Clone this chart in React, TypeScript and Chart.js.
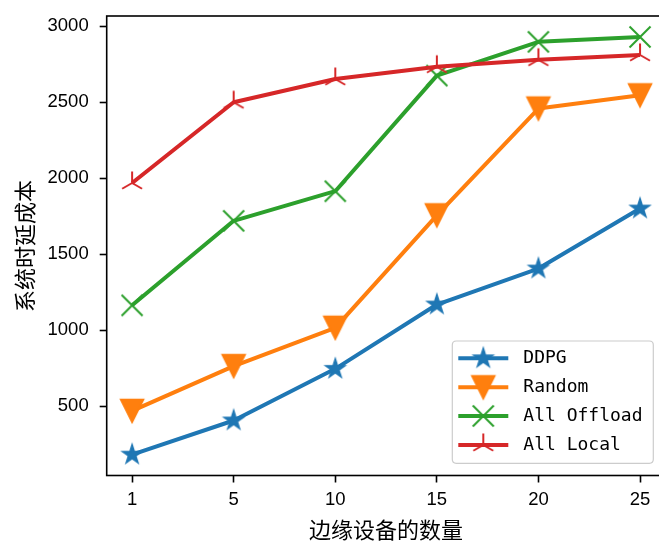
import React, { useEffect, useRef } from 'react';
import { Chart, registerables } from 'chart.js';

Chart.register(...registerables);

const categories = ['1', '5', '10', '15', '20', '25'];
const ddpg = [180, 405, 745, 1168, 1405, 1800];
const randomPolicy = [468, 763, 1015, 1755, 2458, 2545];
const allOffload = [1163, 1719, 1914, 2675, 2897, 2929];
const allLocal = [1968, 2499, 2652, 2733, 2779, 2811];
const yTickValues = [500, 1000, 1500, 2000, 2500, 3000];
const seriesNames = ['DDPG', 'Random', 'All Offload', 'All Local'];
const seriesColors = ['#1f77b4', '#ff7f0e', '#2ca02c', '#d62728'];
const seriesMarkers = ['star', 'tridown', 'x', 'triup'];
const xTitle = '边缘设备的数量';
const yTitle = '系统时延成本';

function makeMarker(kind: string, color: string): HTMLCanvasElement {
  const S = 30;
  const c = document.createElement('canvas');
  c.width = S;
  c.height = S;
  const ctx = c.getContext('2d')!;
  ctx.translate(S / 2, S / 2);
  ctx.strokeStyle = color;
  ctx.fillStyle = color;
  if (kind === 'star') {
    const R = 10.2;
    const r = R * 0.382;
    ctx.beginPath();
    for (let i = 0; i < 10; i++) {
      const ang = -Math.PI / 2 + (i * Math.PI) / 5;
      const rad = i % 2 === 0 ? R : r;
      const px = Math.cos(ang) * rad;
      const py = Math.sin(ang) * rad;
      if (i === 0) ctx.moveTo(px, py);
      else ctx.lineTo(px, py);
    }
    ctx.closePath();
    ctx.fill();
    ctx.lineWidth = 1.4;
    ctx.lineJoin = 'miter';
    ctx.stroke();
  } else if (kind === 'tridown') {
    const h = 11.6;
    ctx.beginPath();
    ctx.moveTo(0, h);
    ctx.lineTo(-h, -h);
    ctx.lineTo(h, -h);
    ctx.closePath();
    ctx.fill();
    ctx.lineWidth = 1.4;
    ctx.stroke();
  } else if (kind === 'x') {
    const h = 10.5;
    ctx.lineWidth = 2;
    ctx.lineCap = 'butt';
    ctx.beginPath();
    ctx.moveTo(-h, -h);
    ctx.lineTo(h, h);
    ctx.moveTo(-h, h);
    ctx.lineTo(h, -h);
    ctx.stroke();
  } else if (kind === 'triup') {
    const r = 11.5;
    ctx.lineWidth = 2;
    ctx.lineCap = 'butt';
    ctx.beginPath();
    ctx.moveTo(0, 0);
    ctx.lineTo(0, -r);
    ctx.moveTo(0, 0);
    ctx.lineTo(-r * 0.866, r * 0.5);
    ctx.moveTo(0, 0);
    ctx.lineTo(r * 0.866, r * 0.5);
    ctx.stroke();
  }
  return c;
}

export default function App() {
  const ref = useRef<HTMLCanvasElement | null>(null);

  useEffect(() => {
    const canvas = ref.current;
    if (!canvas) return;
    const markers = seriesMarkers.map((m, i) => makeMarker(m, seriesColors[i]));
    const allSeries = [ddpg, randomPolicy, allOffload, allLocal];

    const datasets = allSeries.map((vals, i) => ({
      label: seriesNames[i],
      data: vals.map((v, k) => ({ x: k, y: v })),
      borderColor: seriesColors[i],
      backgroundColor: seriesColors[i],
      borderWidth: 4,
      borderJoinStyle: 'round' as const,
      pointStyle: markers[i] as any,
      pointRadius: 12,
      pointHoverRadius: 12,
      tension: 0,
      order: 3 - i,
    }));

    const overlay = {
      id: 'overlay',
      afterDraw(chart: any) {
        const { ctx, chartArea: a } = chart;
        ctx.save();
        // frame
        ctx.strokeStyle = '#000';
        ctx.lineWidth = 1.6;
        ctx.strokeRect(a.left, a.top, a.right - a.left, a.bottom - a.top);
        // axis titles
        ctx.fillStyle = '#000';
        ctx.font = '22px "Noto Sans CJK SC"';
        ctx.textAlign = 'center';
        ctx.textBaseline = 'middle';
        ctx.fillText(xTitle, (a.left + a.right) / 2, 530);
        ctx.save();
        ctx.translate(25, 246);
        ctx.rotate(-Math.PI / 2);
        ctx.fillText(yTitle, 0, 0);
        ctx.restore();
        // legend
        const bx = 452.3, by = 341, bw = 201, bh = 122.3, rr = 4;
        ctx.beginPath();
        ctx.moveTo(bx + rr, by);
        ctx.lineTo(bx + bw - rr, by);
        ctx.quadraticCurveTo(bx + bw, by, bx + bw, by + rr);
        ctx.lineTo(bx + bw, by + bh - rr);
        ctx.quadraticCurveTo(bx + bw, by + bh, bx + bw - rr, by + bh);
        ctx.lineTo(bx + rr, by + bh);
        ctx.quadraticCurveTo(bx, by + bh, bx, by + bh - rr);
        ctx.lineTo(bx, by + rr);
        ctx.quadraticCurveTo(bx, by, bx + rr, by);
        ctx.closePath();
        ctx.fillStyle = 'rgba(255,255,255,0.8)';
        ctx.fill();
        ctx.strokeStyle = '#cccccc';
        ctx.lineWidth = 1.2;
        ctx.stroke();
        const rows = [358.3, 387.3, 416, 445];
        ctx.font = '18px "DejaVu Sans Mono"';
        ctx.textAlign = 'left';
        ctx.textBaseline = 'middle';
        seriesNames.forEach((name, i) => {
          const y = rows[i];
          ctx.strokeStyle = seriesColors[i];
          ctx.lineWidth = 4;
          ctx.lineCap = 'butt';
          ctx.beginPath();
          ctx.moveTo(458.3, y);
          ctx.lineTo(508.3, y);
          ctx.stroke();
          const m = markers[i];
          ctx.drawImage(m, 483.3 - m.width / 2, y - m.height / 2);
          ctx.fillStyle = '#000';
          ctx.fillText(name, 523.3, y);
        });
        ctx.restore();
      },
    };

    const tickFont = { family: '"Liberation Sans", Arial, sans-serif', size: 18.5 };

    const chart = new Chart(canvas, {
      type: 'line',
      data: { datasets },
      options: {
        animation: false,
        responsive: false,
        devicePixelRatio: 1,
        layout: { padding: { left: 0, top: 14, right: 700 - 665.4, bottom: 0 } },
        plugins: { legend: { display: false }, tooltip: { enabled: false } },
        scales: {
          x: {
            type: 'linear',
            min: -0.25,
            max: 5.25,
            grid: { drawOnChartArea: false, drawTicks: true, tickLength: 7, tickColor: '#000', tickWidth: 1.6 },
            border: { display: false },
            ticks: {
              color: '#000',
              font: tickFont,
              padding: 6,
              callback: (v: any) => categories[Math.round(Number(v))] ?? '',
            },
            afterBuildTicks: (s: any) => {
              s.ticks = categories.map((_, i) => ({ value: i }));
            },
            afterFit: (s: any) => {
              s.height = 542 - 475.5;
              s.paddingLeft = 0;
              s.paddingRight = 0;
            },
          },
          y: {
            type: 'linear',
            min: 43,
            max: 3067,
            grid: { drawOnChartArea: false, drawTicks: true, tickLength: 7, tickColor: '#000', tickWidth: 1.6 },
            border: { display: false },
            ticks: { color: '#000', font: tickFont, padding: 11, callback: (v: any) => String(v) },
            afterBuildTicks: (s: any) => {
              s.ticks = yTickValues.map((v) => ({ value: v }));
            },
            afterFit: (s: any) => {
              s.width = 106.7;
              s.paddingTop = 0;
              s.paddingBottom = 0;
            },
          },
        },
      },
      plugins: [overlay],
    });
    return () => chart.destroy();
  }, []);

  return (
    <div style={{ position: 'fixed', left: 0, top: 0, width: 659, height: 542, overflow: 'hidden', background: '#fff' }}>
      <canvas ref={ref} width={700} height={542} style={{ width: 700, height: 542, display: 'block' }} />
    </div>
  );
}
